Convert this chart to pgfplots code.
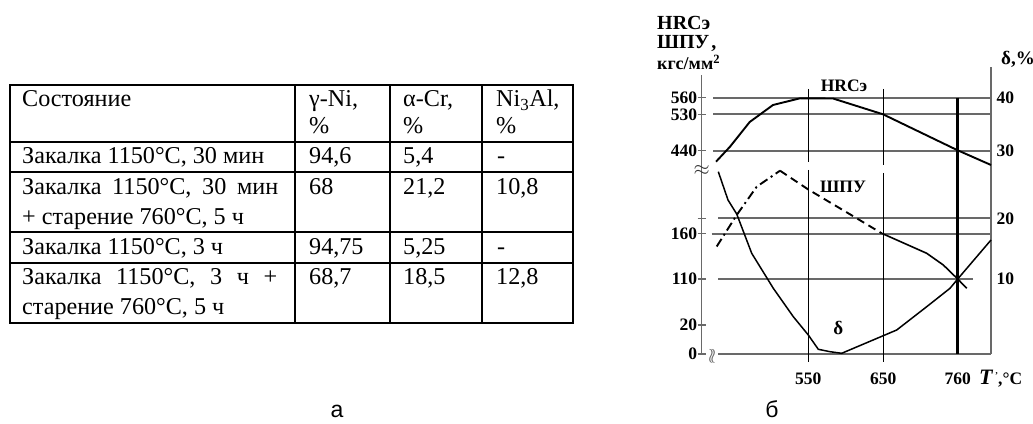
\documentclass[border=0pt]{standalone}
\usepackage{pgfplots}
\pgfplotsset{compat=1.18}
\usepackage{fontspec}
\setmainfont{Liberation Serif}
\newfontfamily\sansf{Liberation Sans}
\definecolor{gridc}{RGB}{105,105,105}
\newlength\tw
\newcommand{\cf}[1]{\fontsize{#1}{#1}\selectfont\bfseries}
\begin{document}%
\settowidth\tw{\fontsize{10}{12}\selectfont Закалка 1150°C, 30 мин}%
\pgfmathsetmacro\tfs{10*242/\tw}%
\def\tf{\fontsize{\tfs}{28}\selectfont}%
\begin{tikzpicture}
% ---------------- table (a) ----------------
\begin{scope}[x=1pt,y=1pt]
\begin{scope}[line width=2.2pt, line cap=rect]
\draw (10,338) -- (573,338);
\draw (10,281.3) -- (573,281.3);
\draw (10,251.3) -- (573,251.3);
\draw (10,191.3) -- (573,191.3);
\draw (10,159.7) -- (573,159.7);
\draw (10,100.3) -- (573,100.3);
\draw (10,100.3) -- (10,338);
\draw (295,100.3) -- (295,338);
\draw (390,100.3) -- (390,338);
\draw (482,100.3) -- (482,338);
\draw (573,100.3) -- (573,338);
\end{scope}
\tikzset{tc/.style={anchor=base west, inner sep=0pt, font=\tf}}
\node[tc] at (22,316.3) {Состояние};
\node[tc] at (22,259.7) {Закалка 1150°C, 30 мин};
\node[tc] at (22,228) {\hbox to 256pt{Закалка\hfill 1150°C,\hfill 30\hfill мин}};
\node[tc] at (22,198) {+ старение 760°C, 5 ч};
\node[tc] at (22,168) {Закалка 1150°C, 3 ч};
\node[tc] at (22,138) {\hbox to 255pt{Закалка\hfill 1150°C,\hfill 3\hfill ч\hfill +}};
\node[tc] at (22,108) {старение 760°C, 5 ч};
\node[tc] at (309,316.3) {γ-Ni,};
\node[tc] at (309,289) {\%};
\node[tc] at (309,259.7) {94,6};
\node[tc] at (309,228) {68};
\node[tc] at (309,168) {94,75};
\node[tc] at (309,138) {68,7};
\node[tc] at (403,316.3) {α-Cr,};
\node[tc] at (403,289) {\%};
\node[tc] at (403,259.7) {5,4};
\node[tc] at (403,228) {21,2};
\node[tc] at (403,168) {5,25};
\node[tc] at (403,138) {18,5};
\node[tc] at (496,316.3) {Ni\textsubscript{3}Al,};
\node[tc] at (496,289) {\%};
\node[tc] at (497,259.7) {-};
\node[tc] at (496,228) {10,8};
\node[tc] at (497,168) {-};
\node[tc] at (496,138) {12,8};
\node[anchor=base, inner sep=0pt, font=\sansf\fontsize{23}{23}\selectfont] at (337,6) {а};
\node[anchor=base, inner sep=0pt, font=\sansf\fontsize{23}{23}\selectfont] at (772,6) {б};
% chart labels outside the axis
\node[anchor=base west, inner sep=0pt, font=\cf{20}] at (657,393) {HRCэ};
\node[anchor=base west, inner sep=0pt, font=\cf{20}] at (657,374.7) {ШПУ\kern2pt,};
\node[anchor=base west, inner sep=0pt, font=\cf{18}] at (657,353) {кгс/мм\textsuperscript{2}};
\node[anchor=base west, inner sep=0pt, font=\cf{19}] at (1001,358.5) {δ,\%};
\node[anchor=base west, inner sep=0pt, font=\fontsize{22}{22}\selectfont\bfseries\itshape] at (979,38) {T};
\node[anchor=base west, inner sep=0pt, font=\cf{17.5}] at (995,38) {\raisebox{6pt}{\fontsize{9}{9}\selectfont'},°C};
\end{scope}
% ---------------- chart (б) ----------------
\begin{axis}[
  at={(701.7pt,69pt)}, anchor=south west,
  scale only axis, width=289.3pt, height=287.3pt,
  xmin=0, xmax=289.3, ymin=0, ymax=287.3,
  axis line style={draw=none},
  clip=false,
  xtick={106.6,181.6,256}, xticklabels={550,650,760},
  ytick={0,29,75,120.3,135.7,203.3,239.7,256.3},
  yticklabels={0,20,110,160,{},440,530,560},
  xtick pos=bottom, ytick pos=left,
  tick align=center,
  major tick length=8pt,
  xtick style={draw=none},
  ytick style={line width=1.3pt, color=gridc},
  tick label style={font=\cf{17.5}},
  yticklabel style={anchor=east, xshift=3pt},
  xticklabel style={anchor=base, yshift=-27pt},
]
% axis lines with break
\addplot[gridc, line width=1.5pt] coordinates {(0,0) (0,189)};
\addplot[gridc, line width=1.5pt] coordinates {(0,179) (0,279)};
\addplot[gridc, line width=1.5pt] coordinates {(289.3,0) (289.3,287.3)};
% horizontal grid lines
\addplot[gridc, line width=1.8pt] coordinates {(11.3,256.3) (289.3,256.3)};
\addplot[gridc, line width=1.8pt] coordinates {(11.3,239.7) (289.3,239.7)};
\addplot[gridc, line width=1.8pt] coordinates {(11.3,203.3) (289.3,203.3)};
\addplot[gridc, line width=1.8pt] coordinates {(16.6,135.7) (289.3,135.7)};
\addplot[gridc, line width=1.8pt] coordinates {(10,120.3) (289.3,120.3)};
\addplot[gridc, line width=1.8pt] coordinates {(16.6,75) (271.3,75)};
\addplot[gridc, line width=1.8pt] coordinates {(16.6,0) (289.3,0)};
% vertical lines
\addplot[black, line width=0.9pt] coordinates {(106.6,265) (106.6,192.3)};
\addplot[black, line width=0.9pt] coordinates {(106.6,184) (106.6,-7.7)};
\addplot[black, line width=0.9pt] coordinates {(181.6,265) (181.6,189)};
\addplot[black, line width=0.9pt] coordinates {(181.6,181) (181.6,-7.7)};
\addplot[black, line width=2.6pt] coordinates {(256,256.3) (256,0)};
% HRC
\addplot[black, line width=1.9pt] coordinates {
 (14.3,192.3) (28.3,207.3) (48,232) (71.3,249) (98.3,255.7) (131.3,255.5) (181.3,239.7) (255.3,204) (289.3,189)};
% ШПУ
\addplot[black, line width=1.9pt, dash pattern=on 9pt off 4pt on 2pt off 4pt] coordinates {
 (15,107.5) (35,139) (55,167.3) (78.3,183.3)};
\addplot[black, line width=1.9pt, dash pattern=on 8pt off 5pt] coordinates {
 (78.3,183.3) (106.6,164.5) (155,135.7) (180,120.7)};
\addplot[black, line width=1.6pt] coordinates {
 (180,120.7) (225,100.7) (241.6,89) (256,75) (265,65.7)};
% delta
\addplot[black, line width=1.5pt] coordinates {
 (16.6,182.3) (26.3,154) (35,140) (50,100.7) (71.6,65.7) (91.6,37.3) (106.6,19) (116.6,4.7) (128.3,2.3) (140,0.7) (195,24) (225,47.3) (248.3,65.7) (256,75) (289.3,114)};
% labels in the chart
\node[font=\cf{17.5}] at (axis cs:142.3,268) {HRCэ};
\node[font=\cf{17.5}] at (axis cs:141.3,167) {ШПУ};
\node[font=\cf{19}] at (axis cs:136.6,25.7) {δ};
\node[font=\fontsize{22}{22}\selectfont, black!80] at (axis cs:0,184) {$\approx$};
\node[font=\fontsize{22}{22}\selectfont, gridc] at (axis cs:10.5,-2) {$\wr\!\wr$};
\end{axis}
\begin{axis}[
  at={(701.7pt,69pt)}, anchor=south west,
  scale only axis, width=289.3pt, height=287.3pt,
  xmin=0, xmax=289.3, ymin=0, ymax=287.3,
  hide x axis,
  axis line style={draw=none},
  ytick pos=right, yticklabel pos=right,
  ytick={75,135.7,203.3,256.3}, yticklabels={10,20,30,40},
  major tick length=0pt,
  tick label style={font=\cf{17.5}},
  yticklabel style={anchor=west, xshift=2pt},
]
\addplot[draw=none] coordinates {(0,0)};
\end{axis}
\pgfresetboundingbox
\path[use as bounding box] (0,0) rectangle (1033pt,423pt);
\end{tikzpicture}
\end{document}
